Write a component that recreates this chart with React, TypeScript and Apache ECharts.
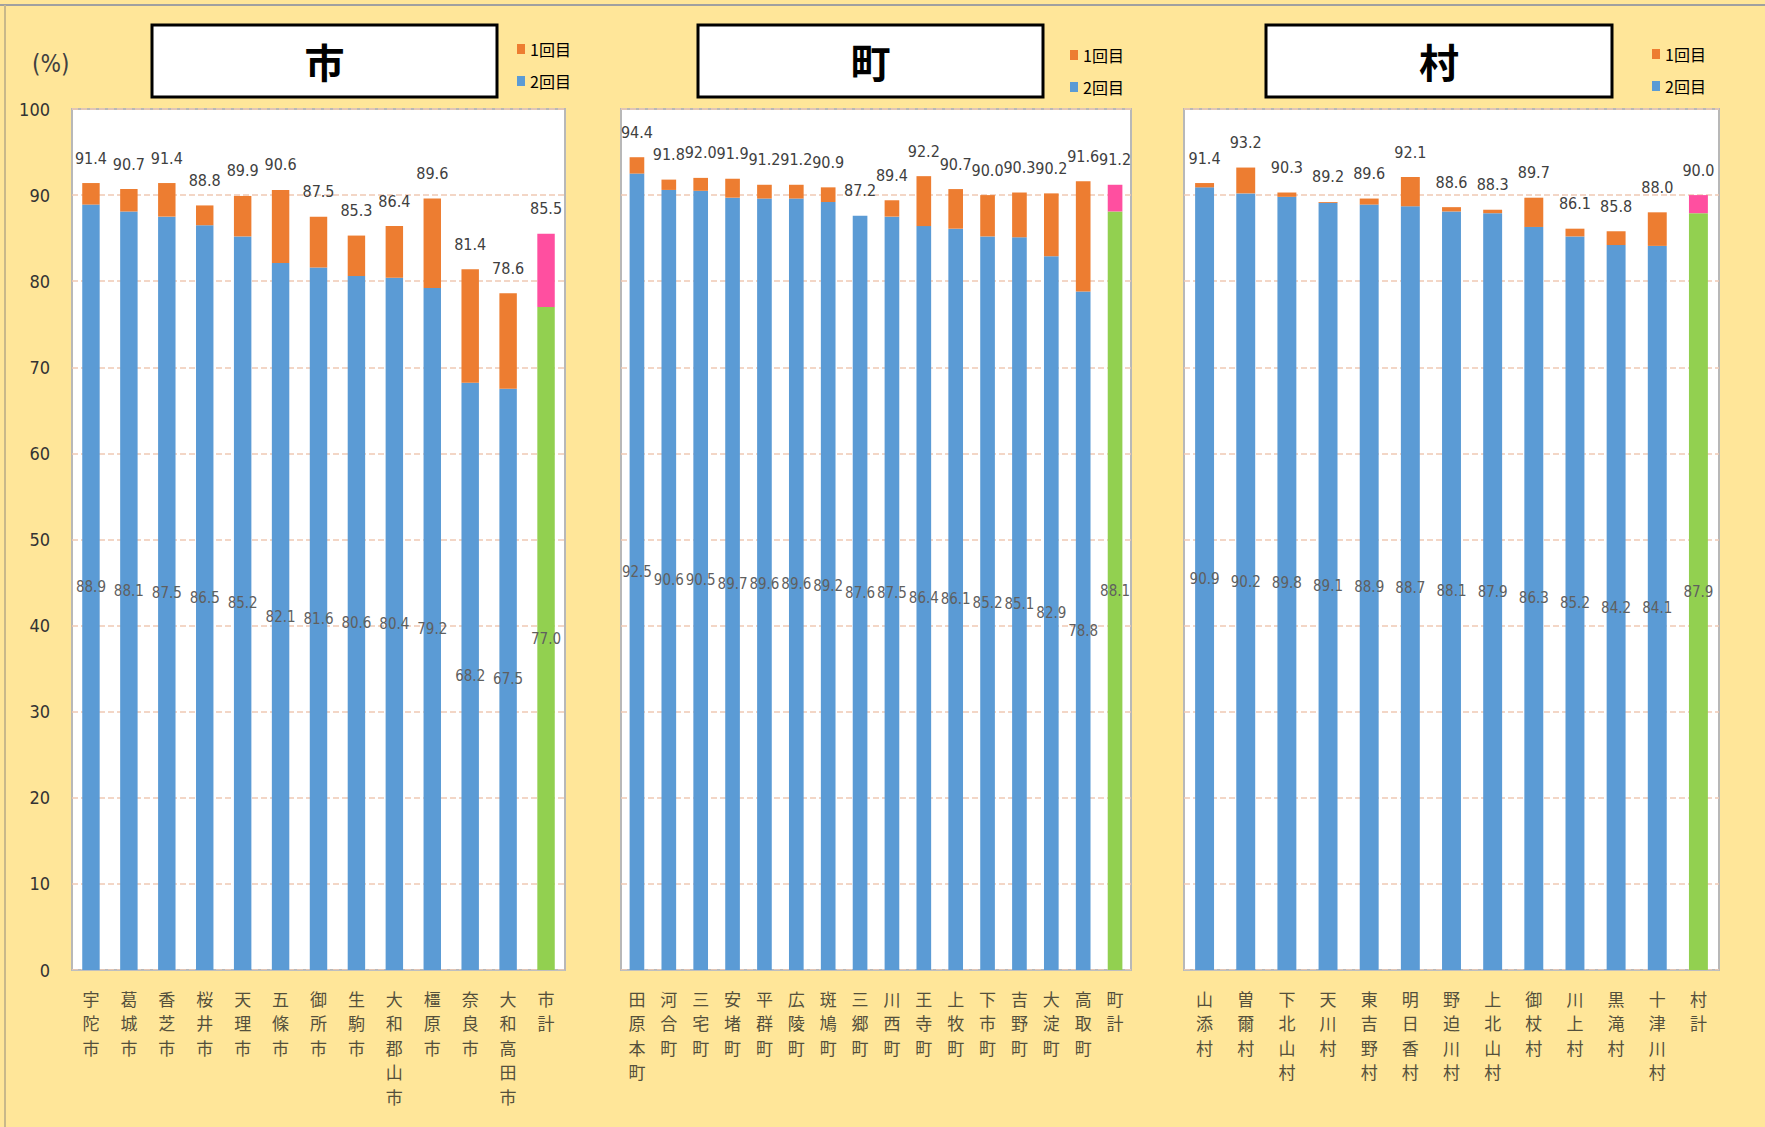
import React, { useEffect, useRef } from "react";
import * as echarts from "echarts";

const cityCats = ["宇陀市", "葛城市", "香芝市", "桜井市", "天理市", "五條市", "御所市", "生駒市", "大和郡山市", "橿原市", "奈良市", "大和高田市", "市計"];
const cityFirst = [91.4, 90.7, 91.4, 88.8, 89.9, 90.6, 87.5, 85.3, 86.4, 89.6, 81.4, 78.6, 85.5];
const citySecond = [88.9, 88.1, 87.5, 86.5, 85.2, 82.1, 81.6, 80.6, 80.4, 79.2, 68.2, 67.5, 77.0];

const townCats = ["田原本町", "河合町", "三宅町", "安堵町", "平群町", "広陵町", "斑鳩町", "三郷町", "川西町", "王寺町", "上牧町", "下市町", "吉野町", "大淀町", "高取町", "町計"];
const townFirst = [94.4, 91.8, 92.0, 91.9, 91.2, 91.2, 90.9, 87.2, 89.4, 92.2, 90.7, 90.0, 90.3, 90.2, 91.6, 91.2];
const townSecond = [92.5, 90.6, 90.5, 89.7, 89.6, 89.6, 89.2, 87.6, 87.5, 86.4, 86.1, 85.2, 85.1, 82.9, 78.8, 88.1];

const villageCats = ["山添村", "曽爾村", "下北山村", "天川村", "東吉野村", "明日香村", "野迫川村", "上北山村", "御杖村", "川上村", "黒滝村", "十津川村", "村計"];
const villageFirst = [91.4, 93.2, 90.3, 89.2, 89.6, 92.1, 88.6, 88.3, 89.7, 86.1, 85.8, 88.0, 90.0];
const villageSecond = [90.9, 90.2, 89.8, 89.1, 88.9, 88.7, 88.1, 87.9, 86.3, 85.2, 84.2, 84.1, 87.9];

const panelTitles = ["市", "町", "村"];
const seriesNames = ["1回目", "2回目"];
const yTicks = [0, 100, 10];

const BLUE = "#5B9BD5";
const ORANGE = "#ED7D31";
const GREEN = "#92D050";
const PINK = "#FF4FA0";
const BG = "#FFE699";
const NUMFONT = "'DejaVu Sans Condensed', 'Liberation Sans Narrow', sans-serif";
const JPFONT = "'Noto Sans CJK JP', sans-serif";

const grids = [
  { left: 72, top: 109, width: 493, height: 861 },
  { left: 621, top: 109, width: 510, height: 861 },
  { left: 1184, top: 109, width: 535, height: 861 },
];
const titleBoxes = [
  { x: 152, y: 25, w: 345, h: 72 },
  { x: 698, y: 25, w: 345, h: 72 },
  { x: 1266, y: 25, w: 346, h: 72 },
];
const legendPos = [
  { left: 512, top: 36 },
  { left: 1065, top: 42 },
  { left: 1647, top: 41 },
];

function buildSeries(idx: number, first: number[], second: number[]) {
  const last = first.length - 1;
  const blue = second.map((v, i) => (i === last ? { value: v, itemStyle: { color: GREEN } } : v));
  const orange = first.map((v, i) => {
    const d = Math.max(0, Math.round((v - second[i]) * 10) / 10);
    return i === last ? { value: d, itemStyle: { color: PINK } } : d;
  });
  return [
    {
      name: seriesNames[1],
      type: "bar",
      stack: "s" + idx,
      xAxisIndex: idx,
      yAxisIndex: idx,
      barWidth: "46%",
      itemStyle: { color: BLUE },
      data: blue,
      label: {
        show: true,
        position: "inside",
        formatter: (p: any) => second[p.dataIndex].toFixed(1),
        color: "#5f5f5f",
        fontSize: 15,
        fontFamily: NUMFONT,
      },
    },
    {
      name: seriesNames[0],
      type: "bar",
      stack: "s" + idx,
      xAxisIndex: idx,
      yAxisIndex: idx,
      barWidth: "46%",
      itemStyle: { color: ORANGE },
      data: orange,
      label: {
        show: true,
        position: "top",
        distance: 17,
        formatter: (p: any) => first[p.dataIndex].toFixed(1),
        color: "#404040",
        fontSize: 16,
        fontFamily: NUMFONT,
      },
    },
  ];
}

export default function App() {
  const ref = useRef<HTMLDivElement>(null);
  useEffect(() => {
    document.body.style.margin = "0";
    if (!ref.current) return;
    const chart = echarts.init(ref.current, undefined, { renderer: "svg" });
    const cats = [cityCats, townCats, villageCats];
    const xAxis = cats.map((c, i) => ({
      type: "category",
      gridIndex: i,
      data: c,
      axisTick: { show: false },
      axisLine: { show: true, lineStyle: { color: "#BFBFBF", width: 1 } },
      axisLabel: {
        interval: 0,
        margin: 16,
        formatter: (v: string) => v.split("").join("\n"),
        fontSize: 17,
        lineHeight: 24.5,
        color: "#54503c",
        fontFamily: JPFONT,
        verticalAlign: "top",
      },
    }));
    const yAxis = [0, 1, 2].map((i) => ({
      type: "value",
      gridIndex: i,
      min: yTicks[0],
      max: yTicks[1],
      interval: yTicks[2],
      axisLine: { show: false },
      axisTick: { show: false },
      axisLabel: {
        show: i === 0,
        margin: 22,
        fontSize: 18,
        color: "#333333",
        fontFamily: NUMFONT,
      },
      splitLine: { show: true, lineStyle: { color: "#EFC9B4", type: "dashed", width: 1.5 } },
    }));
    const grid = grids.map((g) => ({
      ...g,
      show: true,
      backgroundColor: "#FFFFFF",
      borderColor: "#B8B8B8",
      borderWidth: 2,
      containLabel: false,
    }));
    const legend = legendPos.map((p) => ({
      left: p.left,
      top: p.top,
      orient: "vertical",
      itemWidth: 8,
      itemHeight: 10,
      itemGap: 16,
      icon: "rect",
      data: seriesNames,
      textStyle: { fontSize: 16, color: "#000", fontFamily: JPFONT },
      selectedMode: false,
    }));
    const graphic: any[] = [
      { type: "line", shape: { x1: 0, y1: 5, x2: 1765, y2: 5 }, style: { stroke: "#A0A0A0", lineWidth: 2 }, z: 1 },
      { type: "line", shape: { x1: 5, y1: 5, x2: 5, y2: 1127 }, style: { stroke: "#C8B88A", lineWidth: 2 }, z: 1 },
      {
        type: "text",
        left: 32,
        top: 52,
        style: { text: "(%)", fontSize: 24, fill: "#404040", fontFamily: NUMFONT },
      },
    ];
    titleBoxes.forEach((b, i) => {
      graphic.push({
        type: "rect",
        shape: { x: b.x, y: b.y, width: b.w, height: b.h },
        style: { fill: "#FFFFFF", stroke: "#000000", lineWidth: 3 },
        z: 10,
      });
      graphic.push({
        type: "text",
        x: b.x + b.w / 2,
        y: b.y + b.h / 2,
        style: {
          text: panelTitles[i],
          fontSize: 40,
          fontWeight: "bold",
          fill: "#000",
          fontFamily: JPFONT,
          align: "center",
          verticalAlign: "middle",
        },
        z: 11,
      });
    });
    chart.setOption({
      animation: false,
      backgroundColor: BG,
      grid,
      xAxis,
      yAxis,
      legend,
      graphic,
      series: [
        ...buildSeries(0, cityFirst, citySecond),
        ...buildSeries(1, townFirst, townSecond),
        ...buildSeries(2, villageFirst, villageSecond),
      ],
    });
    return () => chart.dispose();
  }, []);
  return <div ref={ref} style={{ width: 1765, height: 1127 }} />;
}
